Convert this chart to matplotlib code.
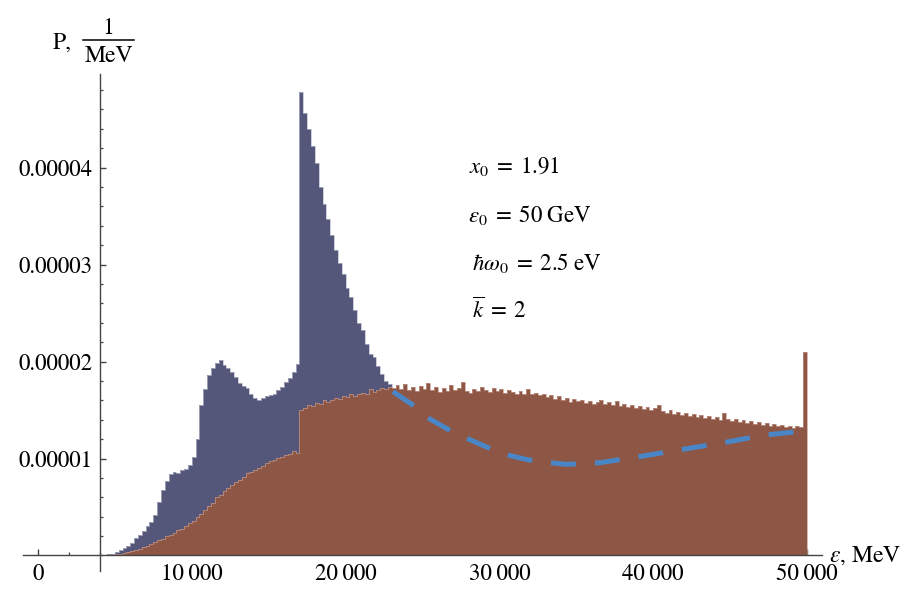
import numpy as np
import matplotlib
matplotlib.use("Agg")
import matplotlib.pyplot as plt
from matplotlib.lines import Line2D
from matplotlib.ticker import MultipleLocator, FixedLocator

plt.rcParams["font.family"] = ["STIXGeneral", "DejaVu Serif"]
plt.rcParams["mathtext.fontset"] = "stix"

# Histogram binning (MeV)
bin_start = 4000
bin_width = 250

# Photon spectrum, single-photon emission (units of 1e-5 per MeV), bins from 4000 MeV
spectrum_a = [
    0.00, 0.01, 0.015, 0.02, 0.04, 0.06, 0.08, 0.10,
    0.13, 0.18, 0.21, 0.25, 0.30, 0.35, 0.42, 0.55,
    0.68, 0.77, 0.84, 0.86, 0.85, 0.88, 0.89, 0.93,
    1.02, 1.20, 1.55, 1.72, 1.86, 1.93, 1.98, 2.02,
    1.96, 1.93, 1.89, 1.84, 1.78, 1.75, 1.73, 1.66,
    1.62, 1.60, 1.62, 1.64, 1.65, 1.66, 1.71, 1.74,
    1.79, 1.83, 1.89, 1.97, 4.78, 4.56, 4.40, 4.22,
    4.05, 3.80, 3.62, 3.47, 3.30, 3.15, 3.02, 2.90,
    2.76, 2.66, 2.53, 2.40, 2.32, 2.18, 2.08, 2.05,
    1.95, 1.87, 1.80, 1.77,
]

# Photon spectrum, multi-photon emission (units of 1e-5 per MeV), bins from 4000 MeV
spectrum_b = [
    0.00, 0.00, 0.005, 0.01, 0.015, 0.02, 0.03, 0.04,
    0.05, 0.06, 0.07, 0.09, 0.10, 0.12, 0.14, 0.16,
    0.17, 0.20, 0.21, 0.23, 0.26, 0.27, 0.30, 0.33,
    0.36, 0.40, 0.43, 0.47, 0.51, 0.54, 0.60, 0.62,
    0.66, 0.70, 0.73, 0.76, 0.78, 0.81, 0.85, 0.86,
    0.88, 0.90, 0.92, 0.95, 0.97, 0.98, 1.01, 1.02,
    1.04, 1.05, 1.08, 1.06, 1.50, 1.52, 1.55, 1.54,
    1.57, 1.56, 1.60, 1.58, 1.60, 1.62, 1.61, 1.64,
    1.63, 1.66, 1.64, 1.67, 1.68, 1.66, 1.72, 1.69,
    1.71, 1.73, 1.72, 1.74, 1.73, 1.76, 1.72, 1.77,
    1.71, 1.74, 1.70, 1.75, 1.72, 1.78, 1.71, 1.74,
    1.69, 1.73, 1.70, 1.76, 1.71, 1.73, 1.79, 1.70,
    1.68, 1.72, 1.70, 1.74, 1.71, 1.69, 1.73, 1.70,
    1.72, 1.68, 1.71, 1.69, 1.67, 1.70, 1.66, 1.72,
    1.67, 1.68, 1.65, 1.66, 1.63, 1.65, 1.61, 1.64,
    1.60, 1.62, 1.58, 1.61, 1.59, 1.60, 1.57, 1.59,
    1.56, 1.58, 1.60, 1.56, 1.58, 1.55, 1.59, 1.54,
    1.56, 1.53, 1.55, 1.52, 1.54, 1.51, 1.53, 1.50,
    1.52, 1.55, 1.49, 1.47, 1.50, 1.46, 1.48, 1.45,
    1.47, 1.44, 1.46, 1.43, 1.45, 1.42, 1.44, 1.41,
    1.43, 1.40, 1.47, 1.41, 1.39, 1.41, 1.38, 1.40,
    1.37, 1.39, 1.36, 1.38, 1.35, 1.37, 1.34, 1.36,
    1.33, 1.35, 1.32, 1.34, 1.31, 1.33, 1.32, 2.10,
]

# Continuation of the single-photon spectrum (dashed curve)
curve_energy = [23080, 24380, 25460, 26550, 27850, 29150, 30450, 31750,
                33060, 34360, 35660, 36540, 39140, 41740, 44450, 47160,
                49540, 50000]
curve_value = [1.69, 1.55, 1.41, 1.31, 1.21, 1.12, 1.04, 0.99,
               0.96, 0.94, 0.95, 0.957, 1.02, 1.09, 1.16, 1.24,
               1.28, 1.29]

x_major = [0, 10000, 20000, 30000, 40000, 50000]
x_labels = ["0", "10\u2009000", "20\u2009000", "30\u2009000", "40\u2009000", "50\u2009000"]
y_major = [1e-5, 2e-5, 3e-5, 4e-5]
y_labels = ["0.00001", "0.00002", "0.00003", "0.00004"]

annotations = [
    r"$x_0\;=\;1.91$",
    r"$\varepsilon_0\;=\;50\ \mathrm{GeV}$",
    r"$\hbar\omega_0\;=\;2.5\ \mathrm{eV}$",
    r"$\overline{k}\;=\;2$",
]

blue = "#545779"
brown = "#8e5644"
dash_blue = "#4a86c6"
axis_col = "#444444"
fs = 16.5

W, H = 909, 593
fig = plt.figure(figsize=(W / 100, H / 100), dpi=100)

# axes box in pixels (left, right, top, bottom)
ax_l, ax_r, ax_t, ax_b = 22.6, 822.4, 74.4, 571.5
ax = fig.add_axes([ax_l / W, 1 - ax_b / H, (ax_r - ax_l) / W, (ax_b - ax_t) / H])
ax.set_xlim(-1000, 51000)
ax.set_ylim(-0.165e-5, 4.96e-5)
ax.patch.set_alpha(0)

va = np.array(spectrum_a) * 1e-5
vb = np.array(spectrum_b) * 1e-5
edges_a = bin_start + bin_width * np.arange(len(va) + 1)
edges_b = bin_start + bin_width * np.arange(len(vb) + 1)

ax.stairs(va, edges_a, fill=True, color=blue, zorder=2)
ax.stairs(va, edges_a, fill=False, color="#b9bbcc", lw=0.5, zorder=2.1)
ax.stairs(vb, edges_b, fill=True, color=brown, zorder=3)
ax.stairs(vb, edges_b, fill=False, color="#c59a8c", lw=0.5, zorder=3.1)

ax.plot(curve_energy, np.array(curve_value) * 1e-5, color=dash_blue, lw=3.6,
        dashes=(5.0, 3.8), dash_capstyle="butt", zorder=4)

# axes crossing inside the plot area
for s in ["top", "right"]:
    ax.spines[s].set_visible(False)
ax.spines["bottom"].set_position(("data", 0))
ax.spines["left"].set_position(("data", 4000))
for s in ["bottom", "left"]:
    ax.spines[s].set_color(axis_col)
    ax.spines[s].set_linewidth(1.0)
    ax.spines[s].set_zorder(5)

ax.xaxis.set_major_locator(FixedLocator(x_major))
ax.xaxis.set_minor_locator(MultipleLocator(2000))
ax.set_xticklabels(x_labels)
ax.yaxis.set_major_locator(FixedLocator(y_major))
ax.yaxis.set_minor_locator(MultipleLocator(2e-6))
ax.set_yticklabels(y_labels)

ax.tick_params(which="both", direction="in", color=axis_col, labelsize=fs)
ax.tick_params(which="major", length=4.5, width=1.0)
ax.tick_params(which="minor", length=2.5, width=0.9)
ax.tick_params(axis="x", which="both", pad=6)
ax.tick_params(axis="y", which="both", pad=5)

# y-axis title: P, 1/MeV with a full-size stacked fraction
lab_fs = 17
fig.text(53 / W, 1 - 43 / H, "P,", fontsize=lab_fs, ha="left", va="center")
fig.text(108.5 / W, 1 - 28 / H, "1", fontsize=lab_fs, ha="center", va="center")
fig.text(108.5 / W, 1 - 56 / H, "MeV", fontsize=lab_fs, ha="center", va="center")
fig.add_artist(Line2D([83 / W, 134 / W], [1 - 39.5 / H, 1 - 39.5 / H],
                      transform=fig.transFigure, color="black", lw=1.1))

# x-axis title
fig.text(829 / W, 1 - 556 / H, r"$\varepsilon$, MeV", fontsize=lab_fs,
         ha="left", va="center")

# parameter block
ann_x = [469, 468, 472, 472]
ann_y = [166, 215, 263, 310]
for t, xp, yp in zip(annotations, ann_x, ann_y):
    fig.text(xp / W, 1 - yp / H, t, fontsize=fs, ha="left", va="center")

fig.savefig("out.png", dpi=100)
